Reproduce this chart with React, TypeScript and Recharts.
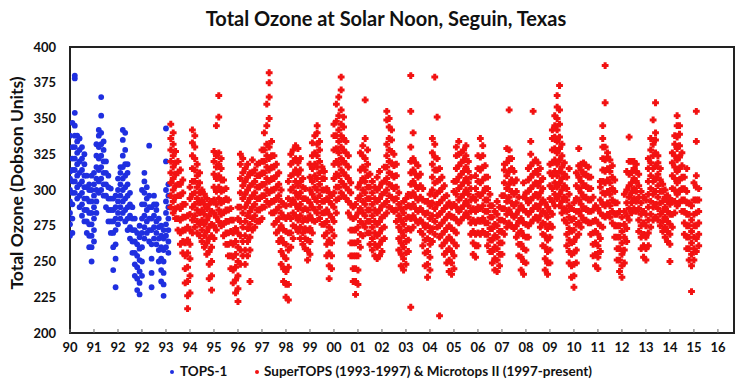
import React from 'react';
import { ScatterChart, Scatter, XAxis, YAxis, ReferenceArea } from 'recharts';

const FONT = 'Lato, "Open Sans", sans-serif';

// x axis labels (one per tick, as printed on the original, including the doubled "92")
const xTickLabels = ['90', '91', '92', '92', '93', '94', '95', '96', '97', '98', '99', '00', '01', '02', '03', '04',
  '05', '06', '07', '08', '09', '10', '11', '12', '13', '14', '15', '16'];
const yTicks = [200, 225, 250, 275, 300, 325, 350, 375, 400];

// ozone readings (DU), 0.1 tick-units apart
const colStep = 0.1;
const topsStart = 0;
const topsCols: number[][] = [
  [268, 276, 284, 292, 300, 308, 313, 338], [270, 280, 290, 298, 306, 314, 322, 330, 347],
  [298, 306, 314, 322, 330, 338, 345, 354, 378, 380], [294, 302, 310, 318, 326, 334, 338],
  [288, 296, 304, 312, 320, 328, 336], [282, 290, 298, 306, 314, 322, 330],
  [278, 286, 294, 302, 310, 318, 325], [270, 278, 286, 294, 302, 310],
  [260, 268, 276, 284, 292, 300, 304], [250, 260, 268, 276, 284, 292, 300, 310],
  [264, 272, 280, 288, 296, 304, 312], [284, 292, 300, 308, 316, 324, 332],
  [298, 306, 314, 322, 330, 338, 342], [300, 308, 316, 324, 332, 340, 352, 365],
  [296, 304, 312, 320, 328, 334], [288, 296, 304, 312, 320],
  [278, 286, 294, 302, 310], [270, 278, 286, 294, 301],
  [244, 260, 270, 278, 286, 294], [232, 252, 262, 272, 280, 288, 296],
  [276, 284, 292, 300, 308], [280, 288, 296, 304, 312, 316],
  [284, 292, 300, 308, 316, 324, 335, 342], [278, 286, 294, 302, 310, 318, 328, 340],
  [272, 280, 288, 296, 304, 312, 318], [266, 274, 282, 290, 298],
  [256, 264, 272, 280, 288], [240, 248, 256, 264, 272, 280],
  [230, 238, 246, 254, 262, 270], [227, 235, 243, 251, 259, 267, 275],
  [240, 250, 260, 270, 280, 290, 300], [266, 274, 282, 290, 298, 306, 312],
  [270, 278, 286, 294, 302], [264, 272, 280, 288, 296, 331],
  [232, 242, 252, 262, 272, 280, 288], [266, 274, 282, 290, 296],
  [262, 270, 278, 286, 290], [250, 258, 266, 274, 280],
  [236, 244, 252, 260, 268, 275], [226, 234, 242, 250, 258, 266, 272],
  [260, 268, 276, 284, 292, 300, 320, 343], [256, 264, 272, 280, 288, 296, 304],
];

const superStart = 4.2;
const superCols: number[][] = [
  // 4.2
  [288, 296, 305, 312, 320, 328, 336, 346], [284, 292, 300, 308, 316, 324, 332, 340], [280, 287, 295, 303, 311, 319, 327],
  [272, 280, 288, 296, 304, 312, 320], [262, 270, 279, 287, 296, 304, 314], [256, 264, 272, 281, 290, 298, 307],
  [235, 245, 254, 263, 272, 281, 290], [217, 226, 236, 246, 256, 265, 274, 282],
  // 5.0
  [228, 240, 252, 262, 272, 283, 294, 302], [270, 279, 288, 297, 306, 315, 324, 333, 342],
  [274, 282, 290, 298, 306, 314, 322, 330, 338], [270, 278, 286, 294, 302, 310, 318],
  [268, 276, 284, 291, 298, 305, 312], [264, 272, 279, 286, 293, 300], [260, 268, 276, 283, 290, 297],
  [255, 263, 271, 279, 287, 294], [238, 248, 257, 266, 274, 282, 290], [230, 240, 250, 260, 268, 276, 285, 292],
  // 6.0
  [266, 275, 284, 293, 302, 311, 320, 327], [272, 281, 290, 299, 308, 316, 324, 345],
  [278, 286, 294, 302, 310, 318, 326, 351, 366], [275, 283, 291, 299, 307, 315, 322],
  [268, 276, 284, 292, 300, 307], [262, 270, 278, 286, 294, 301], [254, 262, 270, 278, 286, 293],
  [245, 254, 263, 271, 279, 287], [235, 244, 253, 262, 270, 279], [228, 237, 246, 255, 264, 273],
  // 7.0
  [222, 231, 240, 250, 260, 270, 280, 288], [248, 258, 268, 278, 288, 298, 308, 318, 325],
  [254, 264, 274, 284, 294, 303, 312, 322], [248, 258, 268, 278, 288, 297, 306, 315],
  [254, 264, 273, 282, 291, 300, 309, 318], [236, 258, 267, 276, 285, 294, 303, 312],
  [272, 280, 288, 296, 304, 312, 321], [274, 282, 290, 298, 306, 314], [278, 286, 294, 302, 310, 318],
  [278, 286, 294, 302, 310, 319],
  // 8.0
  [280, 288, 296, 304, 312, 320, 328], [288, 296, 304, 312, 320, 328, 340],
  [292, 300, 308, 316, 324, 332, 345, 360], [290, 298, 306, 314, 322, 330, 350, 365, 375, 382],
  [284, 292, 300, 308, 316, 324, 334], [276, 284, 292, 300, 308, 316, 324],
  [270, 278, 286, 294, 302, 310, 318], [264, 272, 280, 288, 296, 304, 312],
  [248, 257, 266, 275, 284, 292, 300], [236, 245, 254, 263, 272, 281, 290],
  // 9.0
  [225, 234, 243, 252, 262, 271, 280, 289], [223, 234, 246, 258, 270, 282, 294, 306],
  [260, 270, 280, 290, 300, 310, 318, 325], [266, 275, 284, 293, 302, 311, 320, 328],
  [274, 282, 290, 298, 306, 314, 322, 331], [271, 279, 287, 295, 303, 311, 319, 329],
  [266, 274, 282, 290, 298, 306, 314, 322], [262, 270, 278, 286, 294, 302, 308],
  [259, 266, 273, 280, 287, 294, 301], [251, 258, 265, 272, 279, 286, 293],
  // 10.0
  [255, 264, 273, 282, 291, 300, 309, 318], [270, 279, 288, 297, 306, 315, 324, 333],
  [278, 286, 294, 302, 310, 318, 326, 338], [284, 292, 300, 308, 316, 324, 332, 340, 345],
  [280, 288, 296, 304, 312, 320, 328, 334], [276, 284, 292, 300, 308, 316],
  [268, 276, 284, 292, 300, 308, 313], [254, 262, 270, 278, 286, 294, 301],
  [238, 247, 256, 265, 274, 283, 292, 298], [245, 254, 263, 272, 281, 290, 296],
  // 11.0
  [268, 278, 288, 298, 308, 318, 328, 338, 346], [284, 293, 302, 311, 320, 329, 338, 348, 360],
  [294, 302, 310, 318, 326, 334, 342, 352, 365], [298, 306, 314, 322, 330, 338, 346, 356, 370, 379],
  [296, 304, 312, 320, 328, 336, 344, 351], [294, 302, 310, 318, 326, 334],
  [284, 292, 300, 308, 316, 324], [254, 263, 272, 281, 290, 298, 305],
  [236, 245, 254, 263, 272, 280, 288], [227, 236, 245, 254, 263, 272, 281, 290],
  // 12.0
  [234, 244, 254, 264, 274, 284, 294, 302], [260, 269, 278, 287, 296, 305, 314, 326],
  [268, 276, 284, 292, 300, 308, 316, 324, 331], [274, 282, 290, 298, 306, 314, 322, 336, 363],
  [270, 278, 286, 294, 302, 310, 318, 328], [262, 270, 278, 286, 294, 302, 311],
  [258, 266, 274, 282, 290, 298, 306], [254, 262, 270, 278, 286, 294, 302],
  [252, 260, 268, 276, 284, 292, 300, 309], [254, 262, 270, 278, 286, 294, 302, 313],
  // 13.0
  [257, 265, 273, 281, 289, 297, 305], [266, 274, 282, 290, 298, 306, 316],
  [284, 292, 300, 308, 316, 324, 332, 349, 355], [288, 296, 304, 312, 320, 328, 336, 344, 350],
  [287, 295, 303, 311, 319, 327, 335, 342], [285, 293, 301, 309, 317, 325],
  [278, 286, 294, 302, 310, 318], [258, 266, 274, 282, 290, 298],
  [247, 255, 263, 271, 279, 287], [244, 252, 260, 268, 276, 284, 292],
  // 14.0
  [248, 256, 264, 272, 280, 288, 294], [257, 265, 273, 281, 289, 297],
  [218, 272, 280, 288, 296, 304, 312, 320, 330, 355, 380], [274, 282, 290, 298, 306, 314, 322, 340],
  [279, 287, 295, 303, 311, 319], [277, 285, 293, 301, 309, 317], [271, 279, 287, 295, 303, 311],
  [261, 269, 277, 285, 293, 301], [247, 256, 265, 274, 283, 292], [239, 248, 257, 266, 275, 284, 292],
  // 15.0
  [244, 253, 262, 271, 280, 289, 297], [264, 273, 282, 291, 300, 309, 318, 326, 336],
  [269, 278, 287, 296, 305, 314, 323, 332, 379], [274, 282, 290, 298, 306, 314, 322, 351],
  [212, 267, 275, 283, 291, 299, 307, 315], [261, 269, 277, 285, 293, 301, 309],
  [255, 263, 271, 279, 287, 295, 303], [249, 257, 265, 273, 281, 289, 296],
  [243, 251, 259, 267, 275, 283, 291], [241, 249, 257, 265, 273, 281, 288],
  // 16.0
  [245, 254, 263, 272, 281, 290, 299, 306], [261, 270, 279, 288, 297, 306, 315, 324, 330],
  [277, 285, 293, 301, 309, 317, 325, 334], [279, 287, 295, 303, 311, 319, 326],
  [281, 289, 297, 305, 313, 321, 328], [284, 292, 300, 308, 316, 324, 331],
  [281, 289, 297, 305, 313, 320], [269, 277, 285, 293, 301, 309], [255, 263, 271, 279, 287, 295],
  [253, 261, 269, 277, 285, 293, 301, 310],
  // 17.0
  [261, 270, 279, 288, 297, 306, 315, 324], [269, 278, 287, 296, 305, 314, 323, 336],
  [271, 280, 289, 298, 307, 316, 324, 331], [269, 277, 285, 293, 301, 309, 317],
  [261, 269, 277, 285, 293, 301, 309], [257, 265, 273, 281, 289, 297], [249, 257, 265, 273, 281, 289],
  [244, 252, 260, 268, 276, 285], [243, 251, 259, 267, 275, 283, 292], [247, 255, 263, 271, 279, 288],
  // 18.0
  [255, 263, 271, 279, 287, 296], [269, 278, 287, 296, 305, 314, 318], [274, 283, 292, 301, 310, 319, 329],
  [277, 286, 295, 304, 313, 322, 328, 356], [275, 283, 291, 299, 307, 315, 322],
  [273, 281, 289, 297, 305, 313], [267, 275, 283, 291, 299, 307], [254, 262, 270, 278, 286, 295],
  [244, 253, 262, 271, 280, 289], [241, 250, 259, 268, 277, 286, 295, 305],
  // 19.0
  [249, 258, 267, 276, 285, 294, 298], [267, 275, 283, 291, 299, 307, 315],
  [277, 285, 293, 301, 309, 317, 325, 334], [279, 287, 295, 303, 311, 319, 355],
  [281, 289, 297, 305, 313, 321], [279, 287, 295, 303, 311, 319], [274, 282, 290, 298, 306, 315],
  [261, 269, 277, 285, 293, 301, 308], [244, 252, 260, 268, 276, 284, 291], [241, 249, 257, 265, 273, 281, 288],
  // 20.0
  [249, 258, 267, 276, 285, 294, 303, 312, 318], [274, 283, 292, 301, 310, 319, 328, 336, 342],
  [289, 297, 305, 313, 321, 329, 337, 345, 352], [294, 302, 310, 318, 326, 334, 342, 350, 358, 366],
  [289, 297, 305, 313, 321, 329, 337, 346, 356, 373], [284, 292, 300, 308, 316, 324, 332],
  [279, 287, 295, 303, 311, 319], [261, 269, 277, 285, 293, 301, 309],
  [249, 257, 265, 273, 281, 289, 297, 315], [239, 247, 255, 263, 271, 279, 287],
  // 21.0
  [232, 240, 248, 256, 264, 272, 280, 291], [249, 258, 267, 276, 285, 294, 303, 312],
  [269, 277, 285, 293, 301, 309, 317, 329], [274, 282, 290, 298, 306, 314, 318],
  [279, 287, 295, 303, 311, 319], [279, 287, 295, 303, 311, 317], [277, 285, 293, 301, 309, 316],
  [269, 277, 285, 293, 301, 309], [254, 262, 270, 278, 286, 295], [247, 255, 263, 271, 279, 289],
  // 22.0
  [245, 253, 261, 269, 277, 287], [257, 266, 275, 284, 293, 302, 306],
  [274, 282, 290, 298, 306, 314, 322, 330, 336, 345], [281, 289, 297, 305, 313, 321, 330, 361, 387],
  [283, 291, 299, 307, 315, 323, 326], [281, 289, 297, 305, 313, 321], [277, 285, 293, 301, 309, 317],
  [267, 275, 283, 291, 299, 307], [251, 259, 267, 275, 283, 291], [243, 251, 259, 267, 275, 285],
  // 23.0
  [239, 247, 255, 263, 271, 281], [249, 258, 267, 276, 285, 297], [264, 273, 282, 291, 300, 313],
  [279, 287, 295, 303, 311, 320, 337], [284, 291, 298, 305, 312, 320], [287, 294, 301, 308, 315, 320],
  [285, 292, 299, 306, 313, 318], [271, 279, 287, 295, 303, 311], [259, 267, 275, 283, 291, 299],
  [253, 261, 269, 277, 285, 295],
  // 24.0
  [251, 259, 267, 275, 283, 293], [261, 270, 279, 288, 297, 306, 315, 322],
  [274, 283, 292, 301, 310, 319, 328, 336], [279, 288, 297, 306, 315, 324, 332, 349],
  [281, 290, 299, 308, 317, 326, 335, 340, 361], [279, 287, 295, 303, 311, 319, 324],
  [275, 283, 291, 299, 307, 315], [271, 278, 285, 292, 299, 304], [267, 274, 281, 288, 295, 300],
  [264, 271, 278, 285, 292, 296],
  // 25.0
  [250, 262, 269, 276, 283, 290, 294], [274, 283, 292, 301, 310, 319, 326],
  [284, 292, 300, 308, 316, 324, 332, 338], [289, 297, 305, 313, 321, 329, 337, 345, 352],
  [291, 299, 307, 315, 323, 331, 339, 345], [285, 293, 301, 309, 317, 326],
  [269, 277, 285, 293, 301, 309], [259, 267, 275, 283, 291, 299, 315], [251, 259, 267, 275, 283, 291],
  [229, 247, 255, 263, 271, 279, 289],
  // 26.0
  [251, 259, 267, 275, 283, 293, 305], [257, 266, 275, 284, 293, 302, 310, 334, 355],
  [261, 269, 277, 285, 293, 301],
];

const toPoints = (cols: number[][], start: number) =>
  cols.flatMap((col, i) => col.map((y) => ({ x: +(start + i * colStep).toFixed(2), y })));

const topsData = toPoints(topsCols, topsStart);
const superData = toPoints(superCols, superStart);

const BLUE = '#1f2fe0';
const RED = '#f21212';

const BlueDot = (p: any) => <circle cx={p.cx} cy={p.cy} r={2.9} fill={BLUE} />;
const RedPlus = (p: any) => (
  <path d={`M${p.cx - 3.4},${p.cy}h6.8M${p.cx},${p.cy - 3.4}v6.8`} stroke={RED} strokeWidth={3} />
);

const XTick = (p: any) => {
  const { x, y, payload } = p;
  return (
    <g>
      <line x1={x} x2={x} y1={y} y2={y - 4} stroke="#666" strokeWidth={1} />
      <text x={x} y={y + 19} textAnchor="middle" fontSize={13} fontWeight={700} fill="#111" fontFamily={FONT}>
        {xTickLabels[payload.value]}
      </text>
    </g>
  );
};

const dot = (color: string, left: number): React.CSSProperties => ({
  position: 'absolute', top: 7, left, width: 4, height: 4, borderRadius: 2, background: color,
});

export default function App() {
  return (
    <div style={{ position: 'absolute', left: 0, top: 0, width: 750, height: 387, background: '#fff', fontFamily: FONT }}>
      <div style={{ position: 'absolute', left: 0, width: 772, top: 6, textAlign: 'center', fontSize: 20, fontWeight: 700, color: '#111' }}>
        Total Ozone at Solar Noon, Seguin, Texas
      </div>
      <div style={{ position: 'absolute', left: 16, top: 183, transform: 'translate(-50%, -50%) rotate(-90deg)', whiteSpace: 'nowrap', fontSize: 17.5, fontWeight: 700, color: '#111' }}>
        Total Ozone (Dobson Units)
      </div>
      <ScatterChart width={750} height={387} margin={{ top: 47, right: 16, bottom: 24, left: 0 }}>
        <XAxis
          type="number"
          dataKey="x"
          height={30}
          domain={[0, 27.67]}
          ticks={xTickLabels.map((_, i) => i)}
          interval={0}
          allowDataOverflow
          axisLine={false}
          tickLine={false}
          tickSize={0}
          tickMargin={0}
          tick={<XTick />}
        />
        <YAxis
          type="number"
          dataKey="y"
          width={70}
          domain={[200, 400]}
          ticks={yTicks}
          interval={0}
          allowDataOverflow
          axisLine={false}
          tickLine={false}
          tickSize={0}
          tickMargin={14}
          tick={{ fontSize: 13, fontWeight: 700, fill: '#111', fontFamily: FONT }}
        />
        <Scatter data={topsData} shape={BlueDot} isAnimationActive={false} />
        <Scatter data={superData} shape={RedPlus} isAnimationActive={false} />
        <ReferenceArea x1={0} x2={27.67} y1={200} y2={400} fill="none" stroke="#222" strokeWidth={2} ifOverflow="visible" />
      </ScatterChart>
      <div style={{ position: 'absolute', top: 363, left: 0, width: 750, fontSize: 13.5, fontWeight: 700, color: '#111', whiteSpace: 'nowrap' }}>
        <span style={dot(BLUE, 170)} />
        <span style={{ position: 'absolute', left: 180 }}>TOPS-1</span>
        <span style={dot(RED, 255)} />
        <span style={{ position: 'absolute', left: 264 }}>SuperTOPS (1993-1997) &amp; Microtops II (1997-present)</span>
      </div>
    </div>
  );
}
